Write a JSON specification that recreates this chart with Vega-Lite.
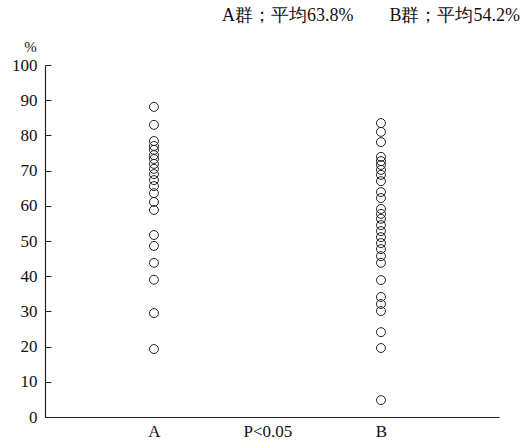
{
  "$schema": "https://vega.github.io/schema/vega-lite/v6.json",
  "width": 454,
  "height": 352,
  "autosize": {"type": "none"},
  "padding": {"left": 45, "top": 65, "right": 26, "bottom": 31},
  "background": "white",
  "title": {
    "text": "A群；平均63.8%　　B群；平均54.2%",
    "anchor": "end",
    "orient": "top",
    "frame": "group",
    "offset": 14,
    "dx": 21,
    "font": "Liberation Serif",
    "fontSize": 18,
    "fontWeight": "normal",
    "color": "#111"
  },
  "config": {
    "view": {"stroke": null},
    "axis": {"grid": false, "domainColor": "#222", "tickColor": "#222", "labelColor": "#111", "titleColor": "#111", "domainWidth": 1.2}
  },
  "data": {
    "values": [
      {"group": "A", "value": 88.1}, {"group": "A", "value": 83.0}, {"group": "A", "value": 78.4},
      {"group": "A", "value": 77.0}, {"group": "A", "value": 75.9}, {"group": "A", "value": 74.4},
      {"group": "A", "value": 73.3}, {"group": "A", "value": 71.9}, {"group": "A", "value": 70.5},
      {"group": "A", "value": 69.0}, {"group": "A", "value": 67.3}, {"group": "A", "value": 65.6},
      {"group": "A", "value": 63.6}, {"group": "A", "value": 61.1}, {"group": "A", "value": 58.8},
      {"group": "A", "value": 51.7}, {"group": "A", "value": 48.6}, {"group": "A", "value": 43.8},
      {"group": "A", "value": 39.0}, {"group": "A", "value": 29.5}, {"group": "A", "value": 19.3},
      {"group": "B", "value": 83.5}, {"group": "B", "value": 81.0}, {"group": "B", "value": 78.1},
      {"group": "B", "value": 73.9}, {"group": "B", "value": 72.7}, {"group": "B", "value": 71.6},
      {"group": "B", "value": 70.2}, {"group": "B", "value": 68.8}, {"group": "B", "value": 67.0},
      {"group": "B", "value": 63.9}, {"group": "B", "value": 62.2}, {"group": "B", "value": 59.1},
      {"group": "B", "value": 57.7}, {"group": "B", "value": 56.3}, {"group": "B", "value": 54.5},
      {"group": "B", "value": 52.8}, {"group": "B", "value": 51.1}, {"group": "B", "value": 49.4},
      {"group": "B", "value": 47.7}, {"group": "B", "value": 45.7}, {"group": "B", "value": 43.8},
      {"group": "B", "value": 38.9}, {"group": "B", "value": 34.1}, {"group": "B", "value": 32.1},
      {"group": "B", "value": 30.1}, {"group": "B", "value": 24.1}, {"group": "B", "value": 19.6},
      {"group": "B", "value": 4.8}
    ]
  },
  "mark": {"type": "point", "filled": false, "shape": "circle", "size": 80, "stroke": "#222", "strokeWidth": 1, "opacity": 1},
  "encoding": {
    "x": {
      "field": "group",
      "type": "nominal",
      "scale": {"type": "point", "domain": ["A", "P<0.05", "B"], "padding": 1.0178, "align": 0.48},
      "axis": {"title": null, "ticks": false, "labelAngle": 0, "labelPadding": 6, "labelFont": "Liberation Serif", "labelFontSize": 17}
    },
    "y": {
      "field": "value",
      "type": "quantitative",
      "scale": {"domain": [0, 100], "nice": false},
      "axis": {
        "values": [0, 10, 20, 30, 40, 50, 60, 70, 80, 90, 100],
        "tickSize": -6,
        "labelPadding": 14,
        "labelFont": "Liberation Serif",
        "labelFontSize": 17,
        "title": "%",
        "titleFont": "Liberation Serif",
        "titleAngle": 0,
        "titleX": -15,
        "titleY": -19,
        "titleAlign": "center",
        "titleBaseline": "middle",
        "titleFontSize": 15,
        "titleFontWeight": "normal"
      }
    }
  }
}
